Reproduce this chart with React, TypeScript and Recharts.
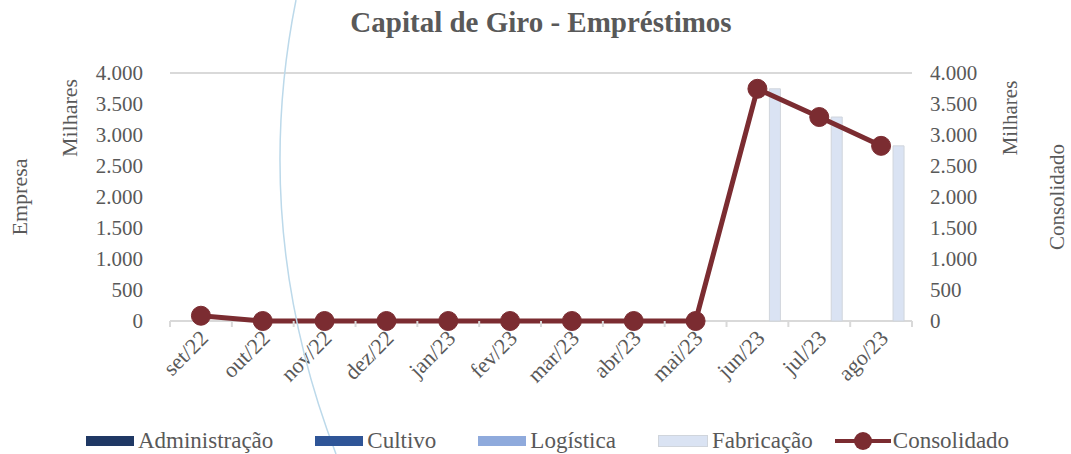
import { ComposedChart, Bar, Line, XAxis, YAxis, CartesianGrid, Label } from "recharts";

const months = ["set/22", "out/22", "nov/22", "dez/22", "jan/23", "fev/23", "mar/23", "abr/23", "mai/23", "jun/23", "jul/23", "ago/23"];
const administracao = [0, 0, 0, 0, 0, 0, 0, 0, 0, 0, 0, 0];
const cultivo = [0, 0, 0, 0, 0, 0, 0, 0, 0, 0, 0, 0];
const logistica = [0, 0, 0, 0, 0, 0, 0, 0, 0, 0, 0, 0];
const fabricacao = [0, 0, 0, 0, 0, 0, 0, 0, 0, 3745, 3290, 2825];
const consolidado = [85, 0, 0, 0, 0, 0, 0, 0, 0, 3745, 3290, 2825];
const yTicks = [0, 500, 1000, 1500, 2000, 2500, 3000, 3500, 4000];

const data = months.map((m, i) => ({
  month: m,
  administracao: administracao[i],
  cultivo: cultivo[i],
  logistica: logistica[i],
  fabricacao: fabricacao[i],
  consolidado: consolidado[i],
}));

const FONT = "'Liberation Serif', 'Times New Roman', 'DejaVu Serif', serif";
const TXT = "#595959";
const GRID = "#d9d9d9";
const LINE = "#7b2c31";

const fmt = (v: number) => String(v).replace(/\B(?=(\d{3})+(?!\d))/g, ".");

const MonthTick = (props: any) => {
  const { x, y, payload } = props;
  const half = 30.9;
  return (
    <g>
      <line x1={x - half} x2={x - half} y1={y - 8} y2={y - 2} stroke={GRID} strokeWidth={2} />
      {payload.index === months.length - 1 && (
        <line x1={x + half} x2={x + half} y1={y - 8} y2={y - 2} stroke={GRID} strokeWidth={2} />
      )}
      <text
        x={x + 5}
        y={y + 7}
        textAnchor="end"
        dominantBaseline="middle"
        transform={`rotate(-45, ${x + 5}, ${y + 7})`}
        fill={TXT}
        fontSize={22}
        fontFamily={FONT}
      >
        {payload.value}
      </text>
    </g>
  );
};

const legendItems = [
  { name: "Administração", color: "#1f3864", kind: "bar" },
  { name: "Cultivo", color: "#2f5597", kind: "bar" },
  { name: "Logística", color: "#8faadc", kind: "bar" },
  { name: "Fabricação", color: "#dae3f3", kind: "bar" },
  { name: "Consolidado", color: LINE, kind: "line" },
];

export default function App() {
  return (
    <div style={{ position: "absolute", left: 0, top: 0, width: 1071, height: 454, background: "#fff", fontFamily: FONT, overflow: "hidden" }}>
      <div style={{ position: "absolute", top: 6, left: 0, width: 1082, textAlign: "center", color: TXT, fontSize: 29, fontWeight: "bold" }}>
        Capital de Giro - Empréstimos
      </div>
      <ComposedChart
        width={1071}
        height={454}
        data={data}
        margin={{ top: 73, right: 89, left: 100, bottom: 33 }}
        barCategoryGap="16%"
        barGap={0}
      >
        <CartesianGrid vertical={false} stroke={GRID} strokeWidth={2} />
        <XAxis
          dataKey="month"
          axisLine={false}
          tickLine={false}
          tick={<MonthTick />}
          interval={0}
          height={100}
        />
        <YAxis
          yAxisId="left"
          domain={[0, 4000]}
          ticks={yTicks}
          interval={0}
          tickFormatter={fmt}
          axisLine={false}
          tickLine={false}
          tickSize={0}
          tickMargin={27}
          width={70}
          tick={{ fill: TXT, fontSize: 21, fontFamily: FONT }}
        >
          <Label
            content={(p: any) => {
              const vb = p.viewBox;
              return (
                <g fill={TXT} fontSize={22} fontFamily={FONT}>
                  <text x={0} y={0} textAnchor="middle" dominantBaseline="middle" transform={`translate(${vb.x - 78}, ${vb.y + vb.height / 2}) rotate(-90)`}>Empresa</text>
                  <text x={0} y={0} textAnchor="middle" dominantBaseline="middle" transform={`translate(${vb.x - 28}, ${vb.y + 45}) rotate(-90)`}>Milhares</text>
                </g>
              );
            }}
          />
        </YAxis>
        <YAxis
          yAxisId="right"
          orientation="right"
          domain={[0, 4000]}
          ticks={yTicks}
          interval={0}
          tickFormatter={fmt}
          axisLine={false}
          tickLine={false}
          tickSize={0}
          tickMargin={18}
          width={70}
          tick={{ fill: TXT, fontSize: 21, fontFamily: FONT, textAnchor: "start" }}
        >
          <Label
            content={(p: any) => {
              const vb = p.viewBox;
              return (
                <g fill={TXT} fontSize={21} fontFamily={FONT}>
                  <text x={0} y={0} textAnchor="middle" dominantBaseline="middle" transform={`translate(${vb.x + 100}, ${vb.y + 45}) rotate(-90)`}>Milhares</text>
                  <text x={0} y={0} textAnchor="middle" dominantBaseline="middle" transform={`translate(${vb.x + 147}, ${vb.y + vb.height / 2}) rotate(-90)`}>Consolidado</text>
                </g>
              );
            }}
          />
        </YAxis>
        <Bar yAxisId="left" dataKey="administracao" fill="#1f3864" isAnimationActive={false} />
        <Bar yAxisId="left" dataKey="cultivo" fill="#2f5597" isAnimationActive={false} />
        <Bar yAxisId="left" dataKey="logistica" fill="#8faadc" isAnimationActive={false} />
        <Bar yAxisId="left" dataKey="fabricacao" fill="#dae3f3" stroke="#d0d5dc" strokeWidth={1} isAnimationActive={false} />
        <Line
          yAxisId="right"
          dataKey="consolidado"
          stroke={LINE}
          strokeWidth={5}
          dot={{ r: 9.5, fill: LINE, stroke: LINE, strokeWidth: 1 }}
          isAnimationActive={false}
        />
      </ComposedChart>
      <svg style={{ position: "absolute", left: 0, top: 0, pointerEvents: "none" }} width={1071} height={454}>
        <path d="M 296 0 Q 250 230 336 454" fill="none" stroke="#bcd9ea" strokeWidth={1.5} />
      </svg>
      <div style={{ position: "absolute", top: 428, left: 12, width: 1071, display: "flex", justifyContent: "center", alignItems: "center", color: TXT, fontSize: 23 }}>
        {legendItems.map((it, i) => (
          <div key={it.name} style={{ display: "flex", alignItems: "center", marginRight: i === legendItems.length - 1 ? 0 : 42 }}>
            {it.kind === "bar" ? (
              <div style={{ width: 48, height: 10, background: it.color, border: it.name === "Fabricação" ? "1px solid #d0d5dc" : "none", marginRight: 4 }} />
            ) : (
              <svg width={56} height={20} style={{ marginRight: 2, marginLeft: -20 }}>
                <line x1={0} y1={10} x2={56} y2={10} stroke={it.color} strokeWidth={4} />
                <circle cx={28} cy={10} r={9} fill={it.color} />
              </svg>
            )}
            <span>{it.name}</span>
          </div>
        ))}
      </div>
    </div>
  );
}
